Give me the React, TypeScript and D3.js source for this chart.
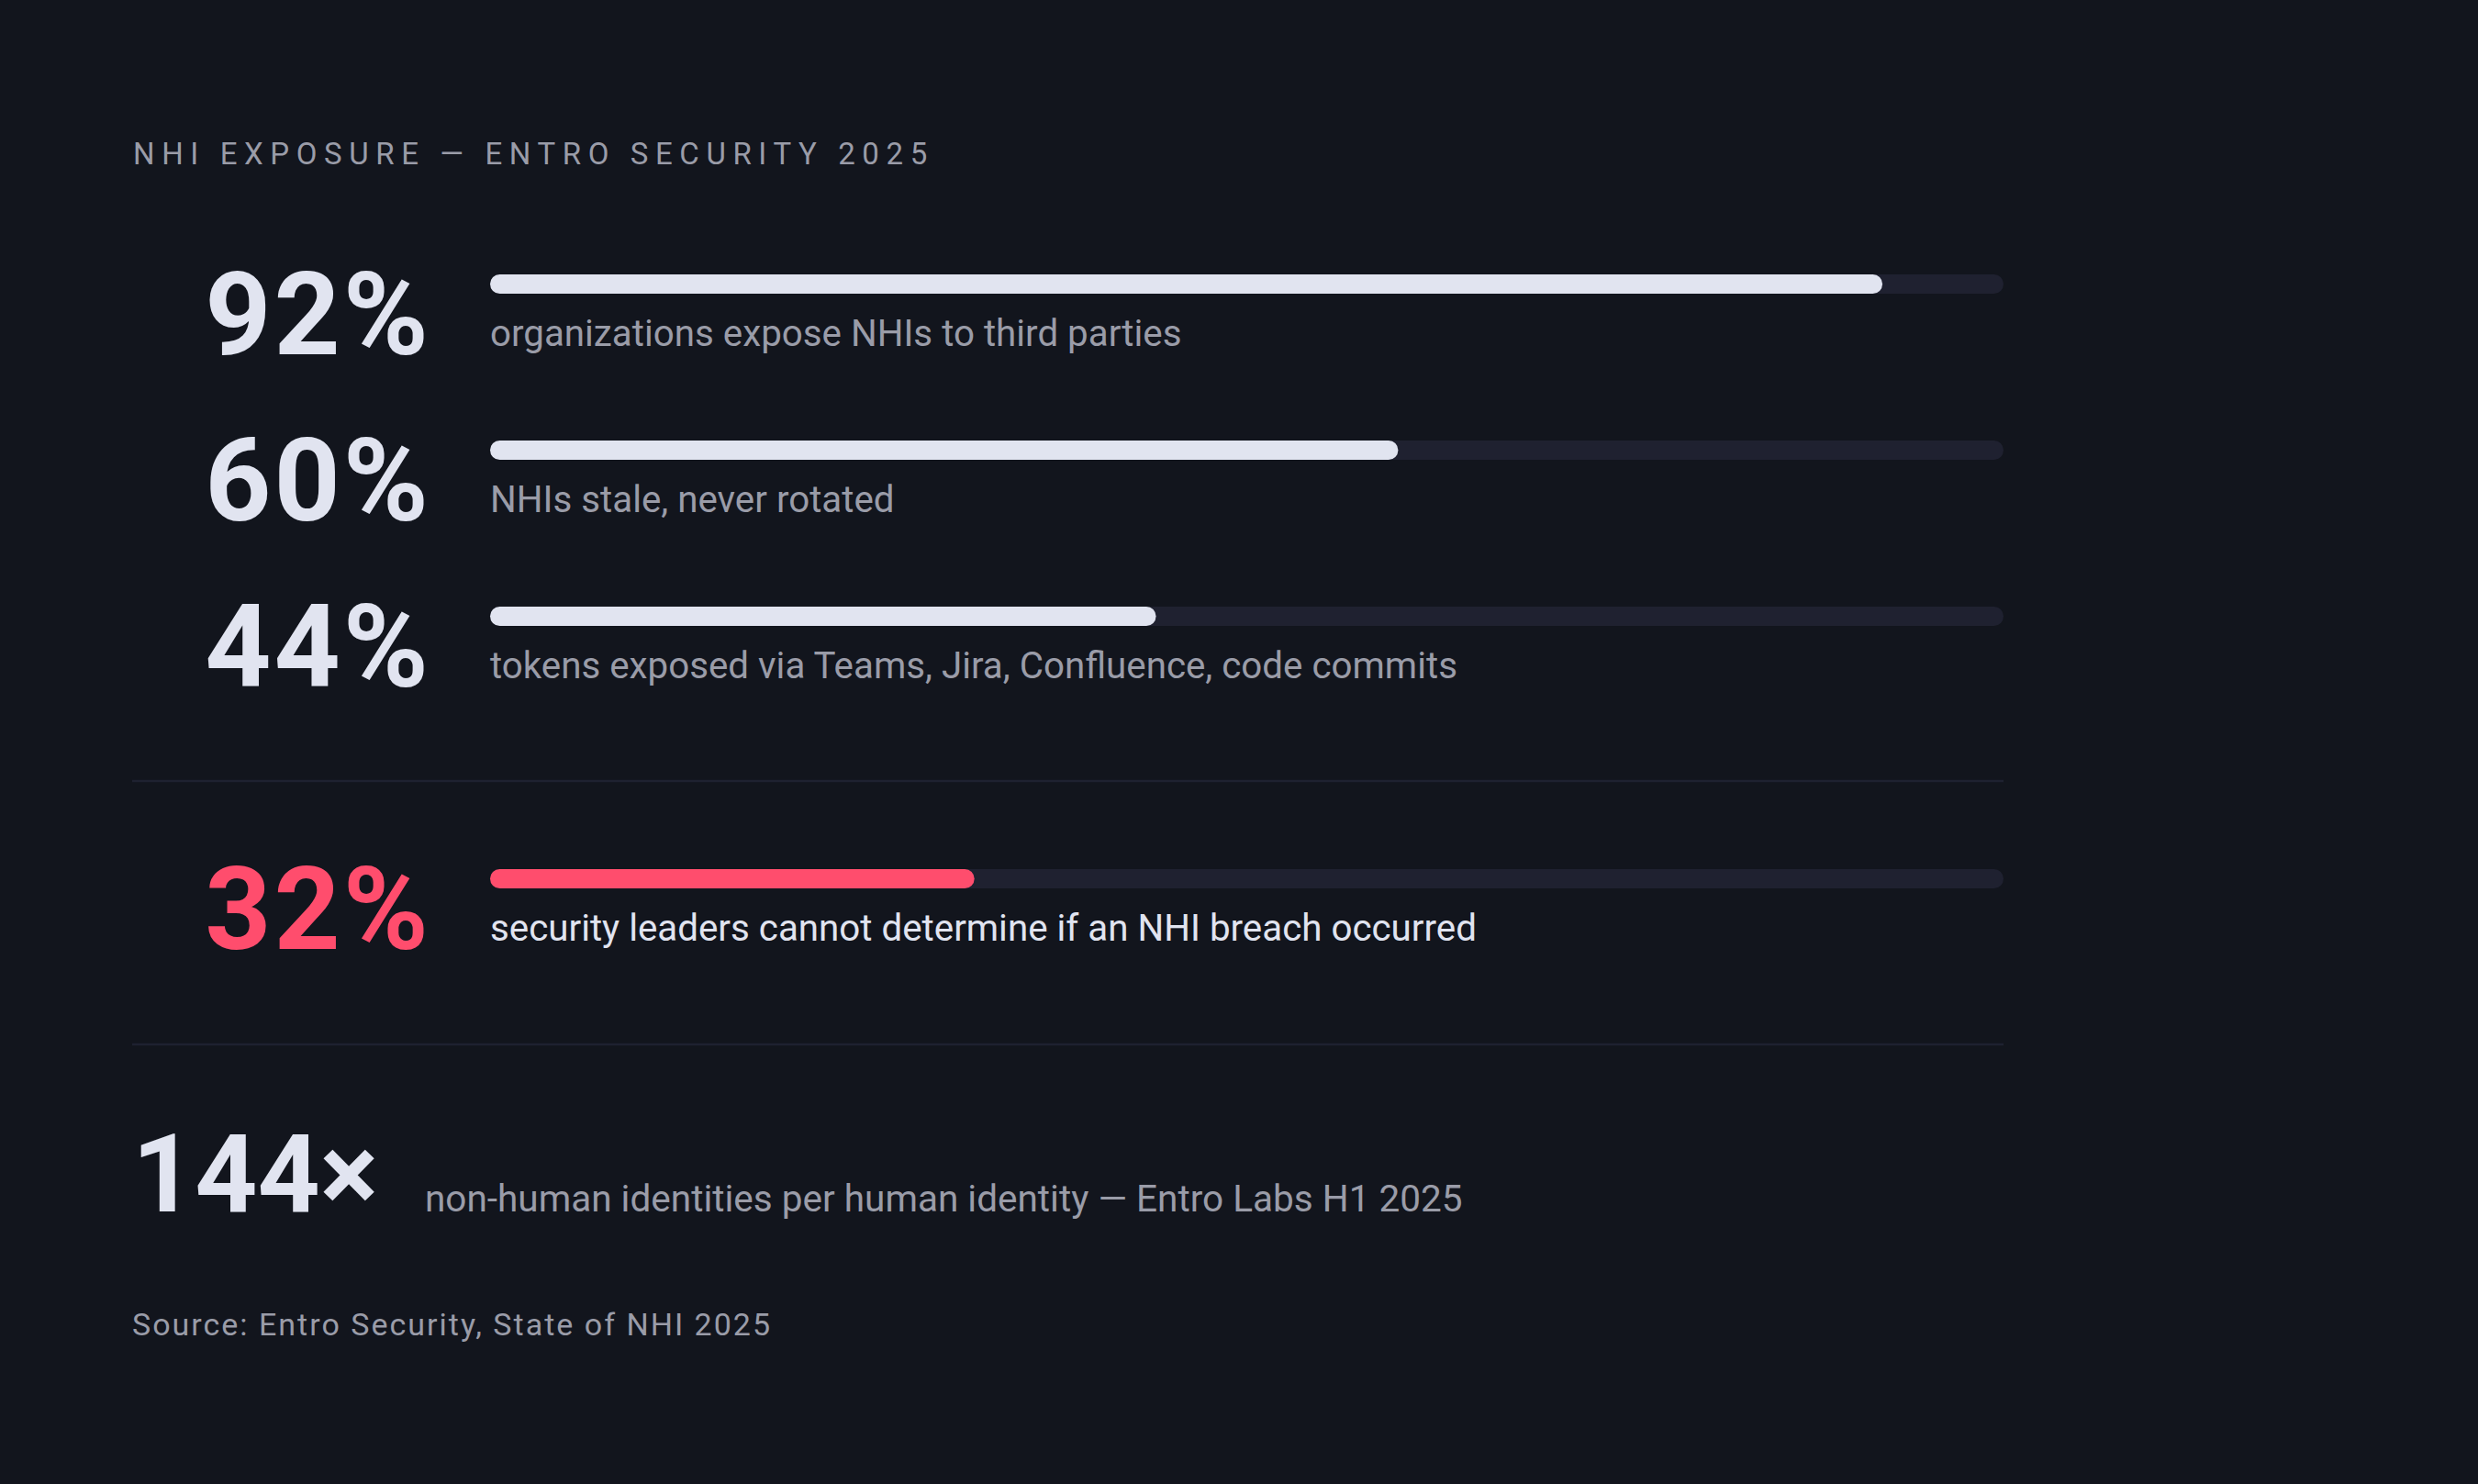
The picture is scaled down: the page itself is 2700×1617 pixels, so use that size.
import * as d3 from "d3";

// stat rows: value in %, caption under the bar
const statValues = [92, 60, 44];
const statLabels = [
  "organizations expose NHIs to third parties",
  "NHIs stale, never rotated",
  "tokens exposed via Teams, Jira, Confluence, code commits",
];
const alertValue = 32;
const alertLabel = "security leaders cannot determine if an NHI breach occurred";
const ratioValue = 144;
const ratioLabel = "non-human identities per human identity — Entro Labs H1 2025";
const title = "NHI EXPOSURE — ENTRO SECURITY 2025";
const source = "Source: Entro Security, State of NHI 2025";

const W = 2700;
const H = 1617;
const FONT = "Roboto, 'Noto Sans', sans-serif";

const C = {
  bg: "#12151d",
  track: "#1f2130",
  bar: "#e1e4f0",
  red: "#ff4d6d",
  muted: "#9a9ca8",
  rule: "#1e2130",
};

const BAR_X0 = 534;
const BAR_X1 = 2183;
const BAR_H = 21;
const NUM_LS = 3;

export default function App() {
  const x = d3.scaleLinear().domain([0, 100]).range([BAR_X0, BAR_X1]);
  // rows are placed by index
  const rowY = d3.scaleLinear().domain([0, 1]).range([299, 480]);

  const Row = ({
    value,
    label,
    top,
    color,
    labelColor,
  }: {
    value: number;
    label: string;
    top: number;
    color: string;
    labelColor: string;
  }) => (
    <g>
      <text
        x={467 + NUM_LS}
        y={top + 87}
        textAnchor="end"
        fill={color}
        fontSize={126}
        fontWeight={700}
        letterSpacing={NUM_LS}
      >
        {value}%
      </text>
      <rect
        x={x(0)}
        y={top}
        width={x(100) - x(0)}
        height={BAR_H}
        rx={BAR_H / 2}
        fill={C.track}
      />
      <rect
        x={x(0)}
        y={top}
        width={x(value) - x(0)}
        height={BAR_H}
        rx={BAR_H / 2}
        fill={color}
      />
      <text x={x(0)} y={top + 78} fill={labelColor} fontSize={40.3}>
        {label}
      </text>
    </g>
  );

  return (
    <div style={{ position: "absolute", left: 0, top: 0, width: W, height: H }}>
      <svg width={W} height={H} style={{ display: "block", fontFamily: FONT }}>
        <rect width={W} height={H} fill={C.bg} />

        <text x={145} y={179} fill={C.muted} fontSize={33} letterSpacing={7.6}>
          {title}
        </text>

        {statValues.map((v, i) => (
          <Row
            key={i}
            value={v}
            label={statLabels[i]}
            top={rowY(i)}
            color={C.bar}
            labelColor={C.muted}
          />
        ))}

        <line x1={144} x2={BAR_X1} y1={851} y2={851} stroke={C.rule} strokeWidth={2.5} />

        <Row value={alertValue} label={alertLabel} top={947} color={C.red} labelColor={C.bar} />

        <line x1={144} x2={BAR_X1} y1={1138} y2={1138} stroke={C.rule} strokeWidth={2.5} />

        <text x={144} y={1320} fill={C.bar} fontSize={119} fontWeight={700}>
          {ratioValue}×
        </text>
        <text x={463} y={1320} fill={C.muted} fontSize={40.5}>
          {ratioLabel}
        </text>

        <text x={144} y={1455} fill={C.muted} fontSize={34} letterSpacing={2}>
          {source}
        </text>
      </svg>
    </div>
  );
}
